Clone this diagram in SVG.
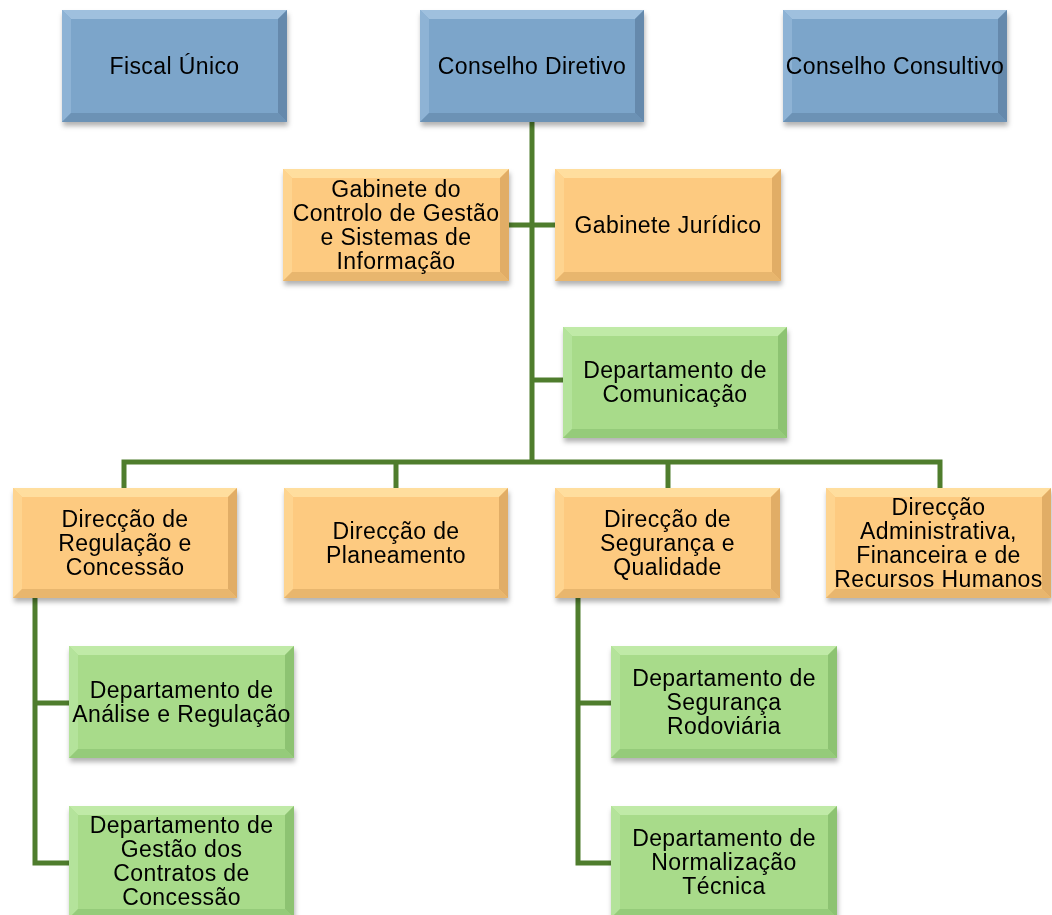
<svg xmlns="http://www.w3.org/2000/svg" width="1052" height="915" viewBox="0 0 1052 915">
<defs>
<filter id="sh" x="-10%" y="-10%" width="125%" height="135%">
<feDropShadow dx="1" dy="4" stdDeviation="2.5" flood-color="#000" flood-opacity="0.3"/>
</filter>
</defs>
<style>
text{font-family:"Liberation Sans",Arial,sans-serif;font-size:23px;letter-spacing:0.4px;fill:#000;text-anchor:middle}
.conn{fill:none;stroke:#4F7D2D;stroke-width:5;stroke-linejoin:miter;stroke-linecap:butt}
.blue .f{fill:#7CA5CA}.blue .t{fill:#9FC0DE}.blue .l{fill:#8EB3D5}.blue .b{fill:#6C92B5}.blue .r{fill:#6589AC}
.org .f{fill:#FDCA80}.org .t{fill:#FFDE9E}.org .l{fill:#FED48F}.org .b{fill:#E8B66E}.org .r{fill:#E1AD66}
.grn .f{fill:#A8DB8A}.grn .t{fill:#C0EAA7}.grn .l{fill:#B4E39B}.grn .b{fill:#95CB7A}.grn .r{fill:#8DC372}
</style>
<g id="connectors">
<path class="conn" d="M532 122V462"/>
<path class="conn" d="M509 225H555"/>
<path class="conn" d="M532 380H563"/>
<path class="conn" d="M124 488V462H940V488"/>
<path class="conn" d="M396 462V488"/>
<path class="conn" d="M668 462V488"/>
<path class="conn" d="M35 598V863H69"/>
<path class="conn" d="M35 703H69"/>
<path class="conn" d="M578 598V863H611"/>
<path class="conn" d="M578 703H611"/>
</g>
<g id="fiscal" class="blue" filter="url(#sh)">
<rect class="f" x="62" y="10" width="225" height="112"/>
<polygon class="t" points="62,10 287,10 278,19 71,19"/>
<polygon class="l" points="62,10 71,19 71,113 62,122"/>
<polygon class="b" points="62,122 71,113 278,113 287,122"/>
<polygon class="r" points="287,10 287,122 278,113 278,19"/>
<text x="174.5" y="74">Fiscal Único</text>
</g>
<g id="conselho-diretivo" class="blue" filter="url(#sh)">
<rect class="f" x="420" y="10" width="224" height="112"/>
<polygon class="t" points="420,10 644,10 635,19 429,19"/>
<polygon class="l" points="420,10 429,19 429,113 420,122"/>
<polygon class="b" points="420,122 429,113 635,113 644,122"/>
<polygon class="r" points="644,10 644,122 635,113 635,19"/>
<text x="532" y="74">Conselho Diretivo</text>
</g>
<g id="conselho-consultivo" class="blue" filter="url(#sh)">
<rect class="f" x="783" y="10" width="224" height="112"/>
<polygon class="t" points="783,10 1007,10 998,19 792,19"/>
<polygon class="l" points="783,10 792,19 792,113 783,122"/>
<polygon class="b" points="783,122 792,113 998,113 1007,122"/>
<polygon class="r" points="1007,10 1007,122 998,113 998,19"/>
<text x="895" y="74">Conselho Consultivo</text>
</g>
<g id="gabinete-controlo" class="org" filter="url(#sh)">
<rect class="f" x="283" y="169" width="226" height="112"/>
<polygon class="t" points="283,169 509,169 500,178 292,178"/>
<polygon class="l" points="283,169 292,178 292,272 283,281"/>
<polygon class="b" points="283,281 292,272 500,272 509,281"/>
<polygon class="r" points="509,169 509,281 500,272 500,178"/>
<text x="396" y="197">Gabinete do</text>
<text x="396" y="221">Controlo de Gestão</text>
<text x="396" y="245">e Sistemas de</text>
<text x="396" y="269">Informação</text>
</g>
<g id="gabinete-juridico" class="org" filter="url(#sh)">
<rect class="f" x="555" y="169" width="226" height="112"/>
<polygon class="t" points="555,169 781,169 772,178 564,178"/>
<polygon class="l" points="555,169 564,178 564,272 555,281"/>
<polygon class="b" points="555,281 564,272 772,272 781,281"/>
<polygon class="r" points="781,169 781,281 772,272 772,178"/>
<text x="668" y="233">Gabinete Jurídico</text>
</g>
<g id="dep-comunicacao" class="grn" filter="url(#sh)">
<rect class="f" x="563" y="327" width="224" height="111"/>
<polygon class="t" points="563,327 787,327 778,336 572,336"/>
<polygon class="l" points="563,327 572,336 572,429 563,438"/>
<polygon class="b" points="563,438 572,429 778,429 787,438"/>
<polygon class="r" points="787,327 787,438 778,429 778,336"/>
<text x="675" y="378">Departamento de</text>
<text x="675" y="402">Comunicação</text>
</g>
<g id="dir-regulacao" class="org" filter="url(#sh)">
<rect class="f" x="13" y="488" width="224" height="110"/>
<polygon class="t" points="13,488 237,488 228,497 22,497"/>
<polygon class="l" points="13,488 22,497 22,589 13,598"/>
<polygon class="b" points="13,598 22,589 228,589 237,598"/>
<polygon class="r" points="237,488 237,598 228,589 228,497"/>
<text x="125" y="527">Direcção de</text>
<text x="125" y="551">Regulação e</text>
<text x="125" y="575">Concessão</text>
</g>
<g id="dir-planeamento" class="org" filter="url(#sh)">
<rect class="f" x="284" y="488" width="224" height="110"/>
<polygon class="t" points="284,488 508,488 499,497 293,497"/>
<polygon class="l" points="284,488 293,497 293,589 284,598"/>
<polygon class="b" points="284,598 293,589 499,589 508,598"/>
<polygon class="r" points="508,488 508,598 499,589 499,497"/>
<text x="396" y="539">Direcção de</text>
<text x="396" y="563">Planeamento</text>
</g>
<g id="dir-seguranca" class="org" filter="url(#sh)">
<rect class="f" x="555" y="488" width="225" height="110"/>
<polygon class="t" points="555,488 780,488 771,497 564,497"/>
<polygon class="l" points="555,488 564,497 564,589 555,598"/>
<polygon class="b" points="555,598 564,589 771,589 780,598"/>
<polygon class="r" points="780,488 780,598 771,589 771,497"/>
<text x="667.5" y="527">Direcção de</text>
<text x="667.5" y="551">Segurança e</text>
<text x="667.5" y="575">Qualidade</text>
</g>
<g id="dir-administrativa" class="org" filter="url(#sh)">
<rect class="f" x="826" y="488" width="225" height="110"/>
<polygon class="t" points="826,488 1051,488 1042,497 835,497"/>
<polygon class="l" points="826,488 835,497 835,589 826,598"/>
<polygon class="b" points="826,598 835,589 1042,589 1051,598"/>
<polygon class="r" points="1051,488 1051,598 1042,589 1042,497"/>
<text x="938.5" y="515">Direcção</text>
<text x="938.5" y="539">Administrativa,</text>
<text x="938.5" y="563">Financeira e de</text>
<text x="938.5" y="587">Recursos Humanos</text>
</g>
<g id="dep-analise" class="grn" filter="url(#sh)">
<rect class="f" x="69" y="646" width="225" height="112"/>
<polygon class="t" points="69,646 294,646 285,655 78,655"/>
<polygon class="l" points="69,646 78,655 78,749 69,758"/>
<polygon class="b" points="69,758 78,749 285,749 294,758"/>
<polygon class="r" points="294,646 294,758 285,749 285,655"/>
<text x="181.5" y="698">Departamento de</text>
<text x="181.5" y="722">Análise e Regulação</text>
</g>
<g id="dep-gestao" class="grn" filter="url(#sh)">
<rect class="f" x="69" y="806" width="225" height="112"/>
<polygon class="t" points="69,806 294,806 285,815 78,815"/>
<polygon class="l" points="69,806 78,815 78,909 69,918"/>
<polygon class="b" points="69,918 78,909 285,909 294,918"/>
<polygon class="r" points="294,806 294,918 285,909 285,815"/>
<text x="181.5" y="833">Departamento de</text>
<text x="181.5" y="857">Gestão dos</text>
<text x="181.5" y="881">Contratos de</text>
<text x="181.5" y="905">Concessão</text>
</g>
<g id="dep-rodoviaria" class="grn" filter="url(#sh)">
<rect class="f" x="611" y="646" width="226" height="112"/>
<polygon class="t" points="611,646 837,646 828,655 620,655"/>
<polygon class="l" points="611,646 620,655 620,749 611,758"/>
<polygon class="b" points="611,758 620,749 828,749 837,758"/>
<polygon class="r" points="837,646 837,758 828,749 828,655"/>
<text x="724" y="686">Departamento de</text>
<text x="724" y="710">Segurança</text>
<text x="724" y="734">Rodoviária</text>
</g>
<g id="dep-normalizacao" class="grn" filter="url(#sh)">
<rect class="f" x="611" y="806" width="226" height="112"/>
<polygon class="t" points="611,806 837,806 828,815 620,815"/>
<polygon class="l" points="611,806 620,815 620,909 611,918"/>
<polygon class="b" points="611,918 620,909 828,909 837,918"/>
<polygon class="r" points="837,806 837,918 828,909 828,815"/>
<text x="724" y="846">Departamento de</text>
<text x="724" y="870">Normalização</text>
<text x="724" y="894">Técnica</text>
</g>
</svg>
